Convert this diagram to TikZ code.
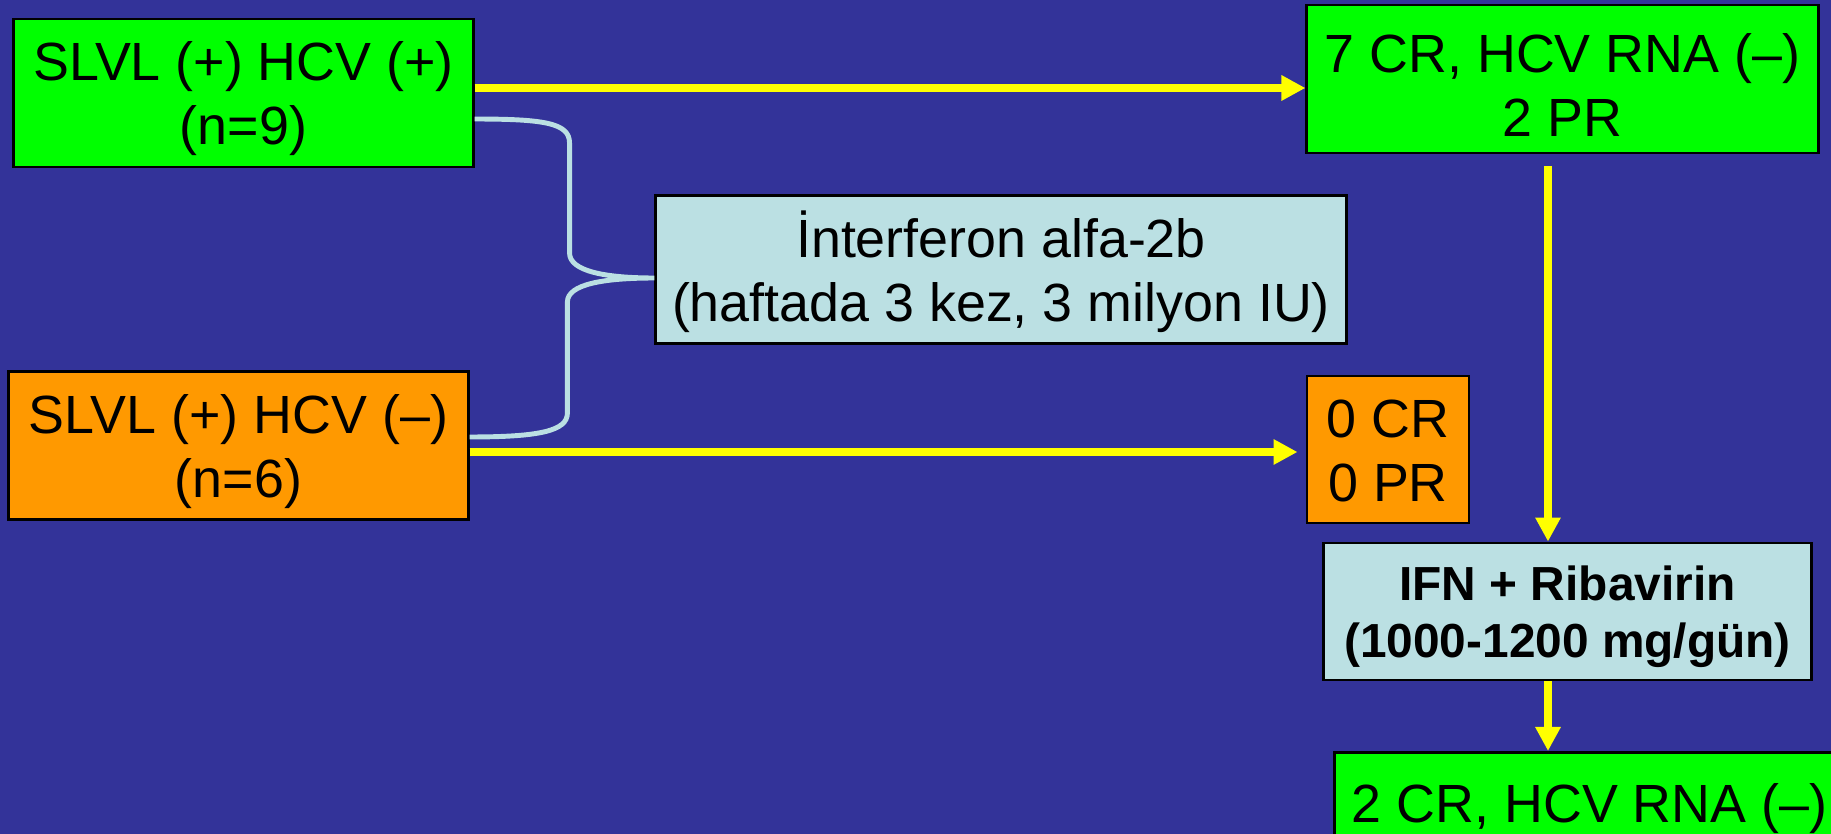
\documentclass[tikz,border=0pt]{standalone}
\usepackage{fontspec}
\setmainfont{Liberation Sans}
\usetikzlibrary{positioning,arrows.meta,calc}
\definecolor{slidebg}{RGB}{51,51,153}
\definecolor{posgreen}{RGB}{0,255,0}
\definecolor{negorange}{RGB}{255,153,0}
\definecolor{paleblue}{RGB}{187,224,227}
\definecolor{flowyellow}{RGB}{255,255,0}
\newcommand{\tallline}[1][0.51cm]{\rule{0pt}{#1}}

\begin{document}
\begin{tikzpicture}[x=0.01cm, y=-0.01cm,
  every node/.style={font=\fontsize{15.3}{18.2}\selectfont},
  box/.style={rectangle, draw=black, line width=0.8pt, inner sep=0pt,
              align=center, minimum height=1.48cm},
  greenbox/.style={box, fill=posgreen},
  orangebox/.style={box, fill=negorange},
  bluebox/.style={box, fill=paleblue},
  arrowstyle/.style={-{Triangle[length=0.24cm,width=0.24cm]}, line width=2.1pt, color=flowyellow},
  bracestyle/.style={line width=1.4pt, color=paleblue}
]
  \useasboundingbox (0,0) rectangle (1831,834);
  \clip (0,0) rectangle (1831,834);
  \fill[slidebg] (0,0) rectangle (1831,834);

  \node[greenbox, minimum width=4.59cm] (hcvpos) at (243.5,93) {\tallline SLVL (+) HCV (+)\\(n=9)};
  \node[orangebox, minimum width=4.59cm] (hcvneg) at (238.5,445.5) {\tallline SLVL (+) HCV (--)\\(n=6)};
  \node[bluebox, minimum width=6.90cm] (ifn) at (1001,269.5) {\tallline İnterferon alfa-2b\\(haftada 3 kez, 3 milyon IU)};
  \node[greenbox, minimum width=5.11cm] (resppos) at (1562.5,79) {\tallline 7 CR, HCV RNA (--)\\2 PR};
  \node[orangebox, minimum width=1.62cm, minimum height=1.47cm] (respneg) at (1388,449.5) {\tallline[0.41cm]0 CR\\0 PR};
  \node[bluebox, minimum width=4.87cm, minimum height=1.37cm,
        font=\fontsize{13.6}{16.4}\selectfont\bfseries] (ribav) at (1567.5,611.5) {\tallline[0.45cm]IFN + Ribavirin\\(1000-1200 mg/gün)};
  \node[greenbox, anchor=north west, minimum width=5.1cm, minimum height=0pt,
        inner ysep=0.1cm, text height=0.6cm, text depth=0.8cm] (final) at (1333,751) {2 CR, HCV RNA (--)};

  \draw[bracestyle] ([yshift=-0.26cm]hcvpos.east) .. controls +(70,0) and +(0,-20) .. ++(95,24)
    -- ++(0,110) .. controls +(0,18) and +(-50,0) .. ([yshift=-0.085cm]ifn.west)
    .. controls +(-50,0) and +(0,-18) .. ++(-87,24)
    -- ++(0,111) .. controls +(0,18) and +(70,0) .. ([yshift=0.085cm]hcvneg.east);

  \draw[arrowstyle] ([yshift=0.05cm]hcvpos.east) -- ([yshift=0.05cm]hcvpos.east -| resppos.west);
  \draw[arrowstyle, shorten >=0.08cm] ([yshift=-0.065cm]hcvneg.east) -- ([yshift=-0.065cm]hcvneg.east -| respneg.west);
  \coordinate (drop) at ([xshift=-0.145cm,yshift=-0.12cm]resppos.south);
  \draw[arrowstyle] (drop) -- (drop |- ribav.north);
  \draw[arrowstyle] (drop |- ribav.south) -- (drop |- final.north);
\end{tikzpicture}
\end{document}
